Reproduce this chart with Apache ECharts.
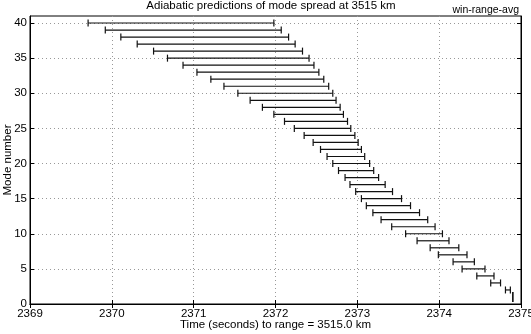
<!DOCTYPE html>
<html>
<head>
<meta charset="utf-8">
<script src="https://cdn.jsdelivr.net/npm/echarts@6/dist/echarts.min.js"></script>
<style>
  html, body { margin: 0; padding: 0; background: #fff; }
  #main { width: 531px; height: 334px; }
</style>
</head>
<body>
<div id="main"></div>
<script>
// mode numbers 1..40 with earliest / latest arrival (seconds)
var modes = [1, 2, 3, 4, 5, 6, 7, 8, 9, 10, 11, 12, 13, 14, 15, 16, 17, 18, 19, 20,
             21, 22, 23, 24, 25, 26, 27, 28, 29, 30, 31, 32, 33, 34, 35, 36, 37, 38, 39, 40];
var tStart = [2374.90, 2374.81, 2374.63, 2374.46, 2374.28, 2374.17, 2373.99, 2373.89, 2373.73, 2373.59,
              2373.42, 2373.29, 2373.19, 2373.11, 2373.05, 2372.98, 2372.91, 2372.85, 2372.77, 2372.70,
              2372.63, 2372.55, 2372.46, 2372.35, 2372.23, 2372.11, 2371.98, 2371.84, 2371.69, 2371.54,
              2371.37, 2371.21, 2371.04, 2370.87, 2370.68, 2370.51, 2370.31, 2370.11, 2369.92, 2369.71];
var tEnd = [2374.90, 2374.87, 2374.75, 2374.67, 2374.56, 2374.43, 2374.34, 2374.24, 2374.12, 2374.04,
            2373.95, 2373.86, 2373.76, 2373.65, 2373.54, 2373.43, 2373.34, 2373.26, 2373.20, 2373.15,
            2373.09, 2373.05, 2373.01, 2372.97, 2372.92, 2372.88, 2372.83, 2372.79, 2372.74, 2372.70,
            2372.65, 2372.59, 2372.53, 2372.47, 2372.41, 2372.33, 2372.24, 2372.16, 2372.07, 2371.98];
var xTicks = [2369, 2370, 2371, 2372, 2373, 2374, 2375];
var yTicks = [0, 5, 10, 15, 20, 25, 30, 35, 40];

var chartDom = document.getElementById('main');
var myChart = echarts.init(chartDom);
var font = 'Liberation Sans, Arial, sans-serif';

var spans = [];
for (var i = 0; i < modes.length; i++) {
    spans.push([tStart[i], tEnd[i], modes[i]]);
}

function renderSpan(params, api) {
    var a = api.coord([api.value(0), api.value(2)]);
    var b = api.coord([api.value(1), api.value(2)]);
    var h = api.value(2) === 1 ? 5 : 3.5;
    var st = { stroke: '#111', lineWidth: 1.2 };
    return {
        type: 'group',
        children: [
            { type: 'line', shape: { x1: a[0], y1: a[1], x2: b[0], y2: b[1] }, style: st },
            { type: 'line', shape: { x1: a[0], y1: a[1] - h, x2: a[0], y2: a[1] + h }, style: st },
            { type: 'line', shape: { x1: b[0], y1: b[1] - h, x2: b[0], y2: b[1] + h }, style: st }
        ]
    };
}

var gridLine = { show: true, lineStyle: { color: '#999', type: [1, 3], width: 1 } };

var option = {
    animation: false,
    backgroundColor: '#fff',
    title: {
        text: 'Adiabatic predictions of mode spread at 3515 km',
        left: 271, textAlign: 'center', top: 0, padding: 0,
        textStyle: { fontFamily: font, fontSize: 11.5, fontWeight: 'normal', color: '#000' }
    },
    graphic: [{
        type: 'text', right: 12, top: 5,
        style: { text: 'win-range-avg', font: '10.5px ' + font, fill: '#000' }
    }],
    grid: {
        left: 30, right: 10, top: 16, bottom: 30, containLabel: false, outerBoundsMode: 'none',
        show: true, borderColor: '#000', borderWidth: 1
    },
    xAxis: [{
        type: 'value', min: 2369, max: 2375, interval: 1,
        name: 'Time (seconds) to range = 3515.0 km', nameLocation: 'middle', nameGap: 15,
        nameMoveOverlap: false,
        nameTextStyle: { fontFamily: font, fontSize: 11.5, color: '#000' },
        axisLine: { show: true, lineStyle: { color: '#000' } },
        axisTick: { show: true, inside: true, length: 4, lineStyle: { color: '#000' } },
        axisLabel: {
            margin: 4, fontFamily: font, fontSize: 11.5, color: '#000',
            customValues: xTicks, formatter: function (v) { return String(v); }
        },
        splitLine: gridLine
    }, {
        type: 'value', position: 'top', min: 2369, max: 2375, interval: 1,
        axisLine: { show: true, lineStyle: { color: '#000' } },
        axisTick: { show: true, inside: true, length: 4, lineStyle: { color: '#000' } },
        axisLabel: { show: false }, splitLine: { show: false }
    }],
    yAxis: [{
        type: 'value', min: 0, max: 41, interval: 5,
        name: 'Mode number', nameLocation: 'middle', nameGap: 16,
        nameMoveOverlap: false,
        nameTextStyle: { fontFamily: font, fontSize: 11.5, color: '#000' },
        axisLine: { show: true, lineStyle: { color: '#000' } },
        axisTick: { show: true, inside: true, length: 4, lineStyle: { color: '#000' }, customValues: yTicks },
        axisLabel: { margin: 3, fontFamily: font, fontSize: 11.5, color: '#000', customValues: yTicks },
        splitLine: gridLine
    }, {
        type: 'value', position: 'right', min: 0, max: 41, interval: 5,
        axisLine: { show: true, lineStyle: { color: '#000' } },
        axisTick: { show: true, inside: true, length: 4, lineStyle: { color: '#000' }, customValues: yTicks },
        axisLabel: { show: false }, splitLine: { show: false }
    }],
    series: [{
        type: 'custom',
        renderItem: renderSpan,
        encode: { x: [0, 1], y: 2 },
        data: spans
    }]
};

option && myChart.setOption(option);
</script>
</body>
</html>
